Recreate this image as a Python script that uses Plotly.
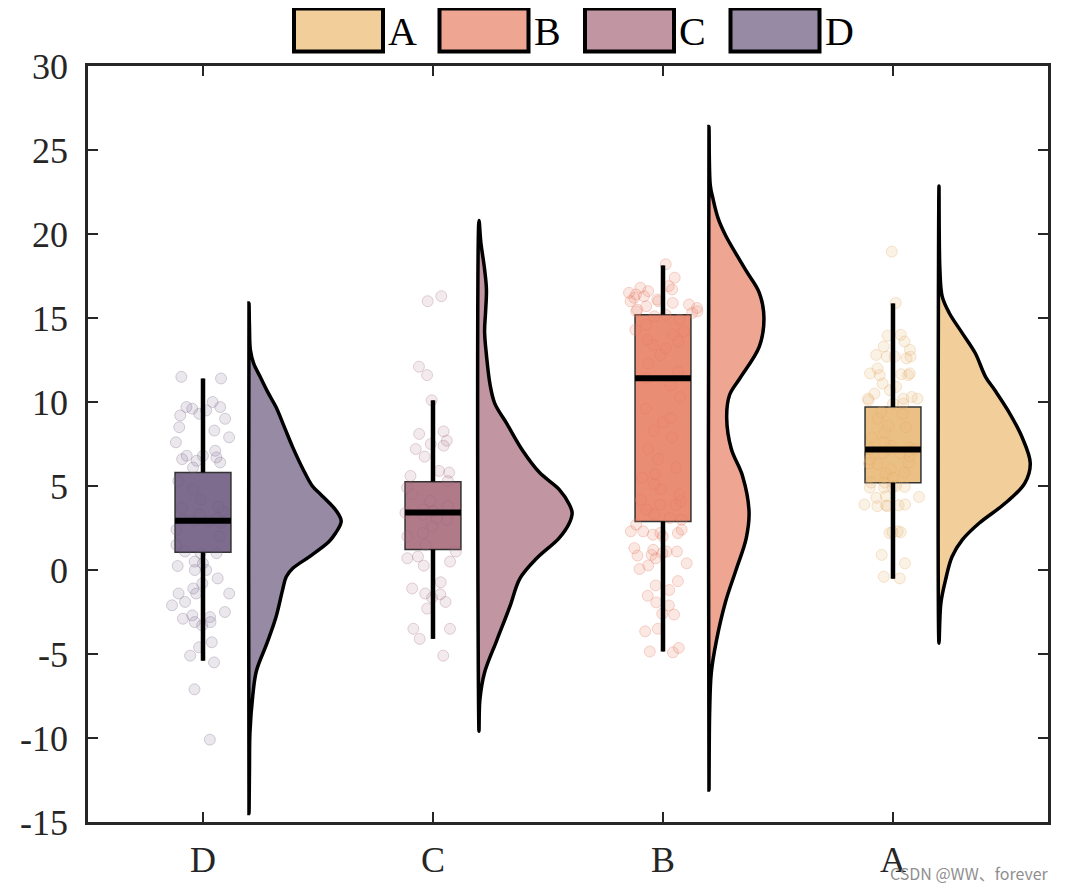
import plotly.graph_objects as go

# ---------------- data ----------------
CATEGORIES = ["D", "C", "B", "A"]          # left -> right on the x axis
POSITIONS = [1, 2, 3, 4]
LEGEND_ORDER = ["A", "B", "C", "D"]

Y_TICKVALS = [-15, -10, -5, 0, 5, 10, 15, 20, 25, 30]
Y_TICKTEXT = ["-15", "-10", "-5", "0", "5", "10", "15", "20", "25", "30"]

# raw observations (scatter "rain")
POINTS_D = [11.4, 11.5, 10.0, 9.7, 9.7, 9.6, 9.5, 9.3, 9.2, 9.0, 8.5, 8.3, 7.9, 7.6, 7.1,
            6.8, 6.8, 6.7, 6.6, 6.5, 6.4, 6.1, 5.3, 4.8, 4.2, 3.75, 3.7, 3.5, 3.3, 3.1,
            3.0, 2.9, 2.9, 2.8, 2.4, 2.0, 1.5, 1.1, 1.0, 1.0, 0.5, 0.4, 0.24, 0.0, 0.0,
            -0.5, -0.8, -1.1, -1.4, -1.4, -1.4, -1.9, -2.1, -2.5, -2.7, -2.8, -2.9, -3.1,
            -3.1, -3.3, -4.3, -4.6, -5.1, -5.5, -7.1, -10.1]
POINTS_C = [16.3, 16.0, 12.1, 11.6, 10.1, 8.25, 8.1, 7.7, 7.5, 7.4, 7.2, 6.75, 5.9, 5.8,
            5.6, 5.3, 4.9, 4.5, 4.1, 3.8, 3.6, 3.5, 3.4, 3.3, 3.1, 3.0, 2.6, 2.2, 2.0, 1.5,
            1.1, 0.8, 0.7, 0.5, 0.26, -0.73, -1.1, -1.4, -1.45, -1.65, -1.9, -2.3, -3.5,
            -3.5, -4.1, -5.1]
POINTS_B = [18.2, 17.4, 16.9, 16.8, 16.7, 16.6, 16.5, 16.4, 16.3, 16.2, 16.1, 16.0, 16.0,
            15.9, 15.8, 15.7, 15.6, 15.5, 15.4, 15.4, 15.3, 15.2, 15.1, 14.9, 14.6, 14.3,
            14.2, 14.0, 13.7, 13.6, 13.4, 13.2, 12.8, 12.3, 11.8, 11.4, 11.0, 10.3, 9.6,
            9.05, 8.8, 8.3, 7.9, 7.2, 6.6, 6.1, 5.7, 5.5, 5.1, 4.8, 4.5, 4.2, 4.1, 3.9,
            3.87, 3.6, 3.3, 3.1, 3.0, 2.7, 2.4, 2.3, 2.3, 2.2, 2.2, 2.1, 2.0, 1.3, 1.2, 1.1,
            1.1, 1.0, 0.9, 0.86, 0.7, 0.4, 0.27, 0.06, -0.66, -0.92, -1.19, -1.53, -1.93,
            -2.11, -2.6, -2.65, -3.5, -3.65, -4.64, -4.85, -4.9]
POINTS_A = [18.95, 15.9, 14.0, 13.95, 13.6, 13.3, 13.1, 12.8, 12.7, 12.7, 12.6, 12.7, 12.0,
            11.7, 11.65, 11.6, 11.7, 11.6, 11.1, 10.9, 10.7, 10.5, 10.2, 10.2, 10.3, 10.1,
            10.2, 9.9, 9.9, 9.4, 9.3, 9.0, 8.6, 8.5, 8.2, 7.9, 7.6, 7.4, 7.3, 7.2, 7.2, 7.2,
            7.1, 7.0, 6.95, 6.95, 6.8, 6.6, 6.4, 6.35, 6.3, 6.0, 5.8, 5.75, 5.5, 5.2, 5.2,
            4.95, 4.9, 5.0, 4.95, 4.9, 4.35, 4.3, 4.4, 3.85, 3.8, 3.9, 3.85, 3.9, 3.8, 2.3,
            2.25, 2.2, 2.25, 0.9, 0.4, -0.4, -0.5]

# box statistics (order follows CATEGORIES: D, C, B, A)
BOX_Q1 = [1.05, 1.22, 2.88, 5.2]
BOX_MEDIAN = [2.93, 3.43, 11.41, 7.18]
BOX_Q3 = [5.81, 5.26, 15.2, 9.7]
BOX_LOWER = [-5.4, -4.1, -4.85, -0.52]
BOX_UPPER = [11.4, 10.1, 18.13, 15.87]

# half-violin density profiles (relative density)
DENS_Y_D = [15.9, 14.5, 13.1, 12.3, 11.5, 10.6, 9.7, 8.5, 7.3, 6.0, 5.0, 4.5, 4.0, 3.5, 2.9,
            2.2, 1.7, 0.8, 0.1, -0.4, -1.2, -2.8, -4.4, -6.0, -7.5, -9.7, -12.0, -14.5]
DENS_D = [0, 0.005, 0.015, 0.05, 0.12, 0.2, 0.29, 0.38, 0.47, 0.58, 0.68, 0.77, 0.86, 0.94,
          0.99, 0.93, 0.86, 0.65, 0.47, 0.4, 0.36, 0.29, 0.19, 0.08, 0.04, 0.01, 0.005, 0]
DENS_Y_C = [20.8, 19.5, 17.9, 16.7, 15.3, 14.2, 12.8, 11.0, 9.9, 8.7, 7.1, 5.8, 4.8, 3.9,
            3.4, 2.8, 1.9, 0.7, -0.5, -2.2, -4.2, -6.1, -7.7, -9.6]
DENS_C = [0, 0.02, 0.06, 0.08, 0.07, 0.06, 0.08, 0.12, 0.17, 0.3, 0.47, 0.65, 0.86, 0.97,
          1.0, 0.97, 0.86, 0.62, 0.44, 0.33, 0.19, 0.06, 0.01, 0]
DENS_Y_B = [26.4, 22.9, 22.1, 20.9, 19.9, 17.8, 16.5, 15.0, 13.3, 11.4, 10.4, 9.05, 7.2, 5.6,
            3.5, 1.9, 0.0, -1.85, -4.2, -6.1, -8.5, -13.1]
DENS_B = [0, 0.014, 0.043, 0.1, 0.18, 0.4, 0.54, 0.59, 0.54, 0.33, 0.22, 0.19, 0.24, 0.36,
          0.43, 0.4, 0.29, 0.18, 0.08, 0.025, 0.007, 0]
DENS_Y_A = [22.86, 17.86, 16.27, 15.3, 14.1, 12.9, 11.5, 10.7, 9.5, 7.93, 6.35, 5.16, 3.97,
            2.78, 1.79, 0.79, -0.6, -1.98, -4.36]
DENS_A = [0, 0.01, 0.035, 0.11, 0.25, 0.39, 0.5, 0.6, 0.74, 0.89, 0.98, 0.92, 0.71, 0.43,
          0.25, 0.14, 0.07, 0.02, 0]

# ---------------- styles ----------------
VIOLIN_COLORS = {"A": "#F1CE9A", "B": "#EEA692", "C": "#C195A1", "D": "#978AA4"}
BOX_COLORS = {"A": "#EBC084", "B": "#E98D74", "C": "#B07A89", "D": "#7D6C8D"}
POINT_FILL = {"A": "rgba(236,192,132,0.2)", "B": "rgba(233,141,116,0.2)",
              "C": "rgba(176,122,137,0.16)", "D": "rgba(125,108,141,0.16)"}
POINT_EDGE = {"A": "rgba(225,170,100,0.3)", "B": "rgba(225,120,95,0.3)",
              "C": "rgba(160,100,118,0.28)", "D": "rgba(110,95,130,0.28)"}

FONT = "Liberation Serif, Times New Roman, serif"
AX_COLOR = "#262626"
BOX_WIDTH = 0.243
JITTER_WIDTH = 0.3
VIOLIN_OFFSET = 0.2
VIOLIN_WIDTH = 0.405

points = {"D": POINTS_D, "C": POINTS_C, "B": POINTS_B, "A": POINTS_A}
dens_y = {"D": DENS_Y_D, "C": DENS_Y_C, "B": DENS_Y_B, "A": DENS_Y_A}
dens = {"D": DENS_D, "C": DENS_C, "B": DENS_B, "A": DENS_A}

fig = go.Figure()

# boxes (library box with precomputed stats)
for i, (cat, pos) in enumerate(zip(CATEGORIES, POSITIONS)):
    fig.add_trace(go.Box(
        x=[pos], q1=[BOX_Q1[i]], median=[BOX_MEDIAN[i]], q3=[BOX_Q3[i]],
        lowerfence=[BOX_LOWER[i]], upperfence=[BOX_UPPER[i]],
        width=BOX_WIDTH, fillcolor=BOX_COLORS[cat],
        line=dict(color="#333333", width=1.5), whiskerwidth=0,
        boxpoints=False, showlegend=False, hoverinfo="skip"))

# jittered raw points
for cat, pos in zip(CATEGORIES, POSITIONS):
    pts = points[cat]
    fig.add_trace(go.Box(
        x=[pos] * len(pts), y=pts, boxpoints="all", jitter=1.0, pointpos=0,
        width=JITTER_WIDTH, fillcolor="rgba(0,0,0,0)",
        line=dict(width=0, color="rgba(0,0,0,0)"), whiskerwidth=0,
        marker=dict(size=11, color=POINT_FILL[cat], line=dict(color=POINT_EDGE[cat], width=1)),
        showlegend=False, hoverinfo="y"))

# whiskers and medians
for i, (cat, pos) in enumerate(zip(CATEGORIES, POSITIONS)):
    fig.add_trace(go.Scatter(
        x=[pos, pos, None, pos, pos],
        y=[BOX_LOWER[i], BOX_Q1[i], None, BOX_Q3[i], BOX_UPPER[i]],
        mode="lines", line=dict(color="black", width=4.5),
        showlegend=False, hoverinfo="skip"))
    fig.add_trace(go.Scatter(
        x=[pos - BOX_WIDTH / 2, pos + BOX_WIDTH / 2],
        y=[BOX_MEDIAN[i], BOX_MEDIAN[i]],
        mode="lines", line=dict(color="black", width=6),
        showlegend=False, hoverinfo="skip"))

# half violins
for cat, pos in zip(CATEGORIES, POSITIONS):
    base = pos + VIOLIN_OFFSET
    ys = list(dens_y[cat])
    xs = [base + d * VIOLIN_WIDTH for d in dens[cat]]
    xs = xs + [base]
    ys = ys + [ys[0]]
    fig.add_trace(go.Scatter(
        x=xs, y=ys, mode="lines", fill="toself", fillcolor=VIOLIN_COLORS[cat],
        line=dict(color="black", width=3.5, shape="spline", smoothing=1.0),
        showlegend=False, hoverinfo="skip", name=cat))

# ---------------- layout ----------------
# plot-area edges in page pixels (page adds an 8 px body margin around the figure)
PAGE_OFF = 8
P_LEFT, P_RIGHT, P_TOP, P_BOTTOM = 88, 1048, 66, 822
W, H = 1049, 876


def px_x(px):
    return (px - P_LEFT) / (P_RIGHT - P_LEFT)


def px_y(py):
    return (P_BOTTOM - py) / (P_BOTTOM - P_TOP)


shapes = []
annotations = []
LEG_X0, LEG_STEP, LEG_W, LEG_H, LEG_CY = 294, 145.5, 89, 43, 30
for k, cat in enumerate(LEGEND_ORDER):
    x0 = LEG_X0 + k * LEG_STEP
    shapes.append(dict(type="rect", xref="paper", yref="paper",
                       x0=px_x(x0), x1=px_x(x0 + LEG_W),
                       y0=px_y(LEG_CY + LEG_H / 2), y1=px_y(LEG_CY - LEG_H / 2),
                       fillcolor=VIOLIN_COLORS[cat], line=dict(color="black", width=4)))
    annotations.append(dict(text=cat, xref="paper", yref="paper",
                            x=px_x(x0 + LEG_W + 3), y=px_y(LEG_CY + 1),
                            xanchor="left", yanchor="middle", showarrow=False,
                            font=dict(family=FONT, size=40, color="black")))

annotations.append(dict(text="CSDN @WW、forever", xref="paper", yref="paper",
                        x=px_x(1051), y=px_y(873), xanchor="right", yanchor="middle",
                        showarrow=False,
                        font=dict(family="Noto Sans CJK SC, DejaVu Sans, sans-serif",
                                  size=16, color="#8f8f8f")))

axis_common = dict(
    showline=True, linewidth=2.5, linecolor=AX_COLOR, mirror="ticks",
    ticks="inside", ticklen=10, tickwidth=2, tickcolor=AX_COLOR,
    showgrid=False, zeroline=False,
    tickfont=dict(family=FONT, size=36, color=AX_COLOR))

fig.update_layout(
    width=W, height=H,
    margin=dict(l=P_LEFT - PAGE_OFF, r=W - (P_RIGHT - PAGE_OFF),
                t=P_TOP - PAGE_OFF, b=H - (P_BOTTOM - PAGE_OFF), autoexpand=False),
    paper_bgcolor="white", plot_bgcolor="white",
    boxmode="overlay", showlegend=False,
    xaxis=dict(range=[0.5, 4.674], tickvals=POSITIONS, ticktext=CATEGORIES,
               ticklabelstandoff=4, **axis_common),
    yaxis=dict(range=[-15, 30], tickvals=Y_TICKVALS, ticktext=Y_TICKTEXT,
               ticklabelstandoff=10, **axis_common),
    shapes=shapes, annotations=annotations,
)

fig.write_html("out.html")
